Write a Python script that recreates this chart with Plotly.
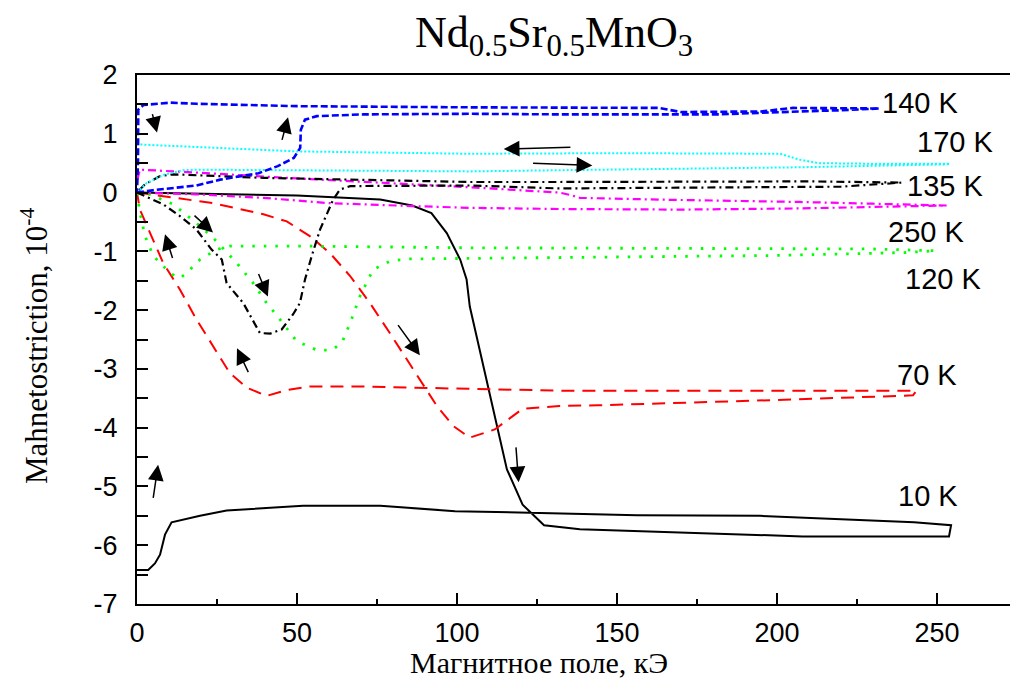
import plotly.graph_objects as go

# ---------------- data (field in kOe, magnetostriction in 1e-4) ----------------
x_10K = [0, 50, 76, 86, 92, 96.8, 101, 103, 104, 110.6, 115.6, 120.5, 127.2, 138.4, 170, 208, 253.75,
         254.4, 242.8, 194.7, 156.25, 99.4, 76, 51.9, 28, 19.7, 10.8, 8.75, 7.2, 5.6, 3.5, 0]
y_10K = [0, -0.05, -0.12, -0.22, -0.35, -0.69, -1.14, -1.48, -1.94, -3.52, -4.71, -5.31, -5.66, -5.73, -5.78, -5.85, -5.85,
         -5.66, -5.61, -5.50, -5.49, -5.42, -5.33, -5.33, -5.41, -5.50, -5.61, -5.82, -6.16, -6.31, -6.42, -6.42]

x_140K = [0, 5, 18.6, 26, 38, 44, 49, 51, 51.2, 52.5, 56.2, 70.8, 104, 132, 182, 195, 207, 220, 232,
          232, 205, 195, 170, 163, 104, 50, 18.6, 10.4, 2, 0.4, 0.3, 0]
y_140K = [0, 0.04, 0.12, 0.22, 0.33, 0.45, 0.59, 0.76, 1.07, 1.24, 1.30, 1.33, 1.34, 1.33, 1.33, 1.36, 1.38, 1.40, 1.42,
          1.43, 1.44, 1.38, 1.37, 1.44, 1.45, 1.47, 1.51, 1.53, 1.49, 1.41, 0.5, 0]

x_170K = [0, 3, 8.2, 10.3, 14.4, 18.6, 50, 104, 132, 170, 207, 253,
          254, 230, 213, 207, 201, 150, 104, 50, 0]
y_170K = [0, 0.16, 0.30, 0.33, 0.38, 0.39, 0.38, 0.36, 0.38, 0.40, 0.43, 0.48,
          0.49, 0.49, 0.50, 0.56, 0.66, 0.67, 0.66, 0.70, 0.82]

x_135K = [0, 8.2, 13.4, 18.6, 23.3, 26.5, 28, 33.2, 38.4, 41.6, 45.2, 48.8, 50.9, 52.5, 54.6, 57.2, 61.3, 63.4,
          66.6, 104, 132, 180, 220, 239,
          239, 210, 132, 104, 39.5, 11.3, 7.2, 2.5, 0]
y_135K = [0, -0.20, -0.40, -0.63, -0.97, -1.14, -1.54, -1.88, -2.39, -2.40, -2.33, -2.07, -1.88, -1.48, -1.08, -0.63,
          -0.12, 0.05, 0.11, 0.12, 0.07, 0.08, 0.10, 0.17,
          0.17, 0.19, 0.18, 0.18, 0.25, 0.31, 0.28, 0.14, 0]

x_250K = [0, 18.6, 39.5, 60, 86, 104, 132, 170, 207, 253,
          253, 230, 207, 163, 138.4, 136, 132, 104, 50, 18.6, 0.9, 0]
y_250K = [0, -0.03, -0.09, -0.18, -0.23, -0.26, -0.28, -0.29, -0.27, -0.22,
          -0.22, -0.19, -0.16, -0.12, -0.09, -0.05, 0.0, 0.09, 0.24, 0.34, 0.39, 0.2]

x_120K = [0, 4.1, 11.3, 18.6, 23.8, 31.2, 36.3, 40.5, 44.7, 49.9, 56.2, 60.8, 64, 66.6, 69.7, 73.8, 79, 84.3,
          104, 150, 200, 240, 249.6,
          249.6, 230, 150, 104, 50, 29, 24.9, 19.7, 15.5, 13.4, 10.3, 5.1, 2.5, 0.9, 0]
y_120K = [0, -0.03, -0.20, -0.52, -0.77, -1.20, -1.54, -1.88, -2.16, -2.53, -2.68, -2.68, -2.56, -2.22, -1.76, -1.31,
          -1.17, -1.13, -1.12, -1.10, -1.07, -1.02, -0.99,
          -0.99, -0.96, -0.95, -0.94, -0.91, -0.91, -0.97, -1.14, -1.37, -1.46, -1.37, -1.08, -0.74, -0.34, 0]

x_70K = [0, 8.2, 23.8, 39.5, 46.8, 54, 60.3, 66.6, 72.8, 79, 84.3, 89.5, 93.7, 98.8, 104, 111.8, 120.5, 132, 144,
         205.6, 240, 242.5,
         243.6, 132, 104, 89.5, 70.7, 54, 46.8, 40.5, 34.3, 29, 23.8, 18.6, 13.4, 8.2, 4.1, 0.9, 0]
y_70K = [0, -0.06, -0.18, -0.37, -0.49, -0.74, -1.03, -1.42, -1.88, -2.39, -2.84, -3.29, -3.63, -3.97, -4.17, -4.03,
         -3.68, -3.63, -3.62, -3.52, -3.46, -3.45,
         -3.37, -3.37, -3.34, -3.32, -3.30, -3.30, -3.36, -3.46, -3.32, -3.07, -2.61, -2.16, -1.65, -1.20, -0.69,
         -0.29, 0]

# curve labels
label_text = ["140 K", "170 K", "135 K", "250 K", "120 K", "70 K", "10 K"]
label_x = [232.2, 243.1, 240.0, 234.0, 239.5, 236.9, 237.2]
label_y = [1.525, 0.86, 0.12, -0.67, -1.47, -3.11, -5.165]

# arrows: (tail x, tail y, head x, head y)
arrow_tail_x = [4.7, 45.2, 17.5, 11.25, 37.8, 35.0, 81.25, 5.0, 118.4, 135.9, 123.3]
arrow_tail_y = [1.36, 0.87, -0.37, -1.14, -1.36, -3.08, -2.23, -5.22, -4.31, 0.77, 0.50]
arrow_head_x = [6.25, 47.2, 23.75, 8.75, 40.9, 31.25, 88.4, 6.6, 119.25, 114.6, 142.3]
arrow_head_y = [1.02, 1.28, -0.68, -0.71, -1.77, -2.65, -2.77, -4.63, -4.93, 0.74, 0.46]

x_ticks = [0, 50, 100, 150, 200, 250]
y_ticks = [2, 1, 0, -1, -2, -3, -4, -5, -6, -7]

# ---------------- figure ----------------
fig = go.Figure()

series = [
    (x_10K, y_10K, "black", "solid", 2),
    (x_70K, y_70K, "#ff0000", "13px,8px", 2),
    (x_120K, y_120K, "#00ff00", "2.5px,9px", 2.8),
    (x_250K, y_250K, "#ff00ff", "8px,4px,2px,4px", 2.2),
    (x_135K, y_135K, "black", "8px,4px,2px,4px", 2.2),
    (x_170K, y_170K, "#00ffff", "2px,2px", 2),
    (x_140K, y_140K, "#0000ff", "7px,3px", 2.6),
]
for xs, ys, col, dash, w in series:
    fig.add_trace(go.Scatter(x=xs, y=ys, mode="lines",
                             line=dict(color=col, dash=dash, width=w),
                             showlegend=False, hoverinfo="skip"))

annotations = []
for t, lx, ly in zip(label_text, label_x, label_y):
    annotations.append(dict(x=lx, y=ly, xref="x", yref="y", text=t, showarrow=False,
                            xanchor="left", yanchor="middle",
                            font=dict(family="Liberation Sans, Arial, sans-serif", size=29, color="black")))

for tx, ty, hx, hy in zip(arrow_tail_x, arrow_tail_y, arrow_head_x, arrow_head_y):
    annotations.append(dict(x=hx, y=hy, ax=tx, ay=ty, xref="x", yref="y", axref="x", ayref="y",
                            text="", showarrow=True, arrowhead=2, arrowsize=2.1, arrowwidth=1.5,
                            arrowcolor="black", standoff=0, startstandoff=0))

# the page body adds an 8px offset; the figure is sized so the plot area lands on the reference pixels
PLOT_W, PLOT_H = 881, 529
ML, MT = 129, 67

# title
annotations.append(dict(x=(554 - 137) / PLOT_W, y=1 + (75 - 36) / PLOT_H, xref="paper", yref="paper",
                        text="Nd<sub>0.5</sub>Sr<sub>0.5</sub>MnO<sub>3</sub>", showarrow=False,
                        xanchor="center", yanchor="middle",
                        font=dict(family="Liberation Serif, Times New Roman, serif", size=44, color="black")))
# x axis title
annotations.append(dict(x=(539 - 137) / PLOT_W, y=-(681 - 604) / PLOT_H, xref="paper", yref="paper",
                        text="Магнитное поле, кЭ", showarrow=False,
                        xanchor="center", yanchor="bottom",
                        font=dict(family="Liberation Serif, Times New Roman, serif", size=30, color="black")))
# y axis title
annotations.append(dict(x=(34 - 137) / PLOT_W, y=(604 - 346) / PLOT_H, xref="paper", yref="paper",
                        text="Mahnetostriction, 10<sup>-4</sup>", showarrow=False, textangle=-90,
                        xanchor="center", yanchor="middle",
                        font=dict(family="Liberation Serif, Times New Roman, serif", size=31, color="black")))

tickfont = dict(family="Liberation Sans, Arial, sans-serif", size=27, color="black")

fig.update_layout(
    width=ML + PLOT_W, height=MT + PLOT_H + 77,
    margin=dict(l=ML, r=0, t=MT, b=77, autoexpand=False),
    paper_bgcolor="white", plot_bgcolor="white",
    annotations=annotations,
    xaxis=dict(range=[0, PLOT_W / 3.2], tickvals=x_ticks, ticktext=[str(v) for v in x_ticks],
               showgrid=False, zeroline=False, showline=True, linecolor="black", linewidth=2,
               mirror=True, ticks="inside", ticklen=11, tickwidth=2, tickcolor="black",
               tickfont=tickfont, ticklabelstandoff=4,
               minor=dict(dtick=25, tick0=0, ticks="inside", ticklen=5, tickwidth=2, tickcolor="black",
                          showgrid=False)),
    yaxis=dict(range=[-7, 2], tickvals=y_ticks, ticktext=[str(v) for v in y_ticks],
               showgrid=False, zeroline=False, showline=True, linecolor="black", linewidth=2,
               ticks="inside", ticklen=11, tickwidth=2, tickcolor="black",
               tickfont=tickfont, ticklabelstandoff=12,
               minor=dict(dtick=0.5, tick0=0, ticks="inside", ticklen=11, tickwidth=2, tickcolor="black",
                          showgrid=False)),
)

fig.write_html("out.html")
